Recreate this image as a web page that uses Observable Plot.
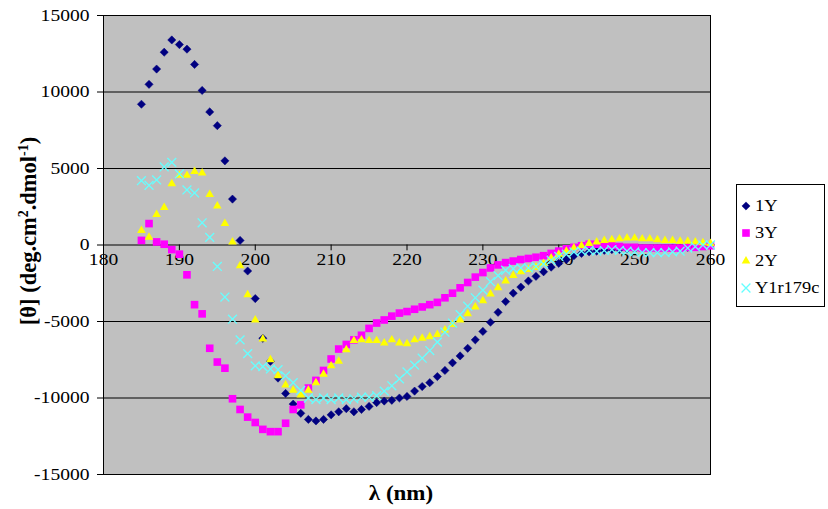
<!DOCTYPE html>
<html>
<head>
<meta charset="utf-8">
<script src="https://cdn.jsdelivr.net/npm/d3@7"></script>
<script src="https://cdn.jsdelivr.net/npm/@observablehq/plot@0.6"></script>
<style>
  body { margin: 0; background: #fff; }
  #wrap { position: relative; width: 828px; height: 509px; font-family: "Liberation Serif", "Times New Roman", serif; color: #000; }
  .ov { position: absolute; white-space: nowrap; line-height: 1; }
  .ov sup { font-size: 0.62em; vertical-align: 0.55em; line-height: 0; }
  #legend { position: absolute; left: 736px; top: 184px; width: 89px; height: 123px; border: 1px solid #000; background: #fff; box-sizing: border-box; }
  .lg { position: absolute; left: 4px; height: 20px; display: flex; align-items: center; font-size: 16px; }
  .lg span { display: inline-block; transform: scaleX(1.15); transform-origin: left center; margin-left: 2px; }
</style>
</head>
<body>
<div id="wrap"></div>
<script>
// ---- data ----
const wavelength = [185,186,187,188,189,190,191,192,193,194,
  195,196,197,198,199,200,201,202,203,204,
  205,206,207,208,209,210,211,212,213,214,
  215,216,217,218,219,220,221,222,223,224,
  225,226,227,228,229,230,231,232,233,234,
  235,236,237,238,239,240,241,242,243,244,
  245,246,247,248,249,250,251,252,253,254,
  255,256,257,258,259,260];

const cd1Y = [9200,10500,11500,12600,13400,13100,12800,11800,10100,8700,
  7800,5500,3000,300,-1700,-3500,-6100,-7600,-8700,-9700,
  -10400,-11000,-11400,-11500,-11400,-11100,-10900,-10700,-10900,-10750,
  -10550,-10300,-10200,-10150,-10000,-9900,-9550,-9250,-9000,-8600,
  -8200,-7700,-7250,-6750,-6200,-5650,-5050,-4400,-3700,-3150,
  -2750,-2350,-2050,-1750,-1450,-1200,-950,-700,-550,-450,
  -400,-350,-300,-300,-250,-250,-250,-250,-250,-250,
  -200,-200,-150,-100,-50,0];

const cd3Y = [300,1400,200,50,-300,-600,-1950,-3900,-4500,-6750,
  -7650,-8050,-10050,-10750,-11250,-11600,-12050,-12200,-12200,-11650,
  -10750,-10450,-9350,-8850,-8200,-7450,-6800,-6500,-6200,-5900,
  -5450,-5100,-4900,-4650,-4450,-4350,-4200,-4050,-3900,-3750,
  -3450,-3150,-2800,-2450,-2100,-1800,-1500,-1300,-1150,-1050,
  -950,-880,-800,-700,-550,-400,-250,-150,-50,50,
  50,0,-50,-100,-150,-150,-200,-200,-200,-200,
  -200,-200,-150,-150,-100,-50];

const cd2Y = [950,500,2000,2450,4000,4550,4550,4800,4700,3300,
  2550,1400,200,-1350,-3250,-4900,-6150,-7500,-8550,-9150,
  -9500,-9800,-9500,-9000,-8450,-7900,-7600,-6850,-6250,-6200,
  -6250,-6250,-6400,-6200,-6400,-6450,-6200,-6100,-6000,-5850,
  -5550,-5200,-4900,-4500,-4050,-3650,-3200,-2800,-2350,-2000,
  -1750,-1600,-1450,-1200,-850,-600,-400,-200,-50,100,
  200,300,350,400,450,450,400,400,350,300,
  300,250,250,200,150,100];

const cdY1r179c = [4200,3900,4250,5100,5400,4650,3600,3400,1450,500,
  -1400,-3400,-4850,-6200,-7100,-7900,-7950,-8100,-8150,-8550,
  -9000,-9500,-10000,-10100,-10000,-10100,-10000,-10100,-10050,-9950,
  -9950,-9850,-9550,-9200,-8750,-8300,-7850,-7400,-6900,-6350,
  -5700,-5100,-4550,-4000,-3450,-2950,-2400,-2000,-1650,-1550,
  -1500,-1500,-1400,-1250,-1000,-750,-600,-450,-400,-350,
  -400,-350,-300,-350,-400,-450,-500,-500,-500,-500,
  -450,-400,-200,-100,0,0];

const seriesNames = ["1Y", "3Y", "2Y", "Y1r179c"];
const xTicks = [180,190,200,210,220,230,240,250,260];
const yTicks = [-15000,-10000,-5000,0,5000,10000,15000];
const gridValues = [-10000,-5000,5000,10000];

// ---- styles ----
const seriesStyle = [
  {symbol: "diamond2", r: 3.7, fill: "#000080", stroke: "#000080", strokeWidth: 0.5},
  {symbol: "square", r: 4.3, fill: "#ff00ff", stroke: "none", strokeWidth: 0},
  {symbol: "triangle", r: 3.2, fill: "#ffff00", stroke: "none", strokeWidth: 0},
  {symbol: "times", r: 4.1, fill: "none", stroke: "#66ffff", strokeWidth: 1.3}
];
const seriesValues = [cd1Y, cd3Y, cd2Y, cdY1r179c];
const rowsFor = vals => wavelength.map((w, i) => ({w, v: vals[i]}));

const dotMarks = seriesValues.map((vals, k) => {
  const s = seriesStyle[k];
  return Plot.dot(rowsFor(vals), {x: "w", y: "v", symbol: s.symbol, r: s.r, fill: s.fill, stroke: s.stroke, strokeWidth: s.strokeWidth});
});

const chart = Plot.plot({
  width: 828,
  height: 509,
  marginLeft: 103,
  marginRight: 118,
  marginTop: 15,
  marginBottom: 35,
  style: {fontFamily: "'Liberation Serif', 'Times New Roman', serif", fontSize: "17px", color: "#000", background: "transparent", overflow: "visible"},
  x: {domain: [180, 260], axis: null},
  y: {domain: [-15000, 15000], axis: null},
  marks: [
    Plot.frame({fill: "#c0c0c0", stroke: null}),
    Plot.ruleY(gridValues, {stroke: "#000", strokeWidth: 1}),
    Plot.ruleY([0], {stroke: "#000", strokeWidth: 1}),
    Plot.ruleX(xTicks, {x: d => d, y1: 0, y2: -380, stroke: "#000"}),
    Plot.text(xTicks, {x: d => d, y: 0, dy: 15, text: d => String(d), fontSize: 17, fill: "#000"}),
    Plot.axisY(yTicks, {tickSize: 6, tickPadding: 8, tickFormat: d => String(d), fontSize: 17, label: null, stroke: "#000", fill: "#000"}),
    Plot.frame({stroke: "#000", strokeWidth: 1}),
    ...dotMarks
  ]
});

const wrap = document.getElementById("wrap");
wrap.appendChild(chart);

// Slight horizontal stretch of the serif labels, as in the reference
chart.querySelectorAll("text").forEach(t => {
  const len = t.getComputedTextLength();
  if (len > 0) {
    t.setAttribute("textLength", (len * 1.15).toFixed(1));
    t.setAttribute("lengthAdjust", "spacingAndGlyphs");
  }
});

// Axis titles
const yt = document.createElement("div");
yt.className = "ov";
yt.style.cssText = "left:29px;top:231px;font-weight:bold;font-size:22.5px;transform:translate(-50%,-50%) rotate(-90deg);";
yt.innerHTML = "[θ] (deg.cm<sup>2</sup>.dmol<sup>-1</sup>)";
wrap.appendChild(yt);

const xt = document.createElement("div");
xt.className = "ov";
xt.style.cssText = "left:401px;top:493px;font-weight:bold;font-size:20px;transform:translate(-50%,-50%) scaleX(1.15);";
xt.textContent = "λ (nm)";
wrap.appendChild(xt);

// Legend
const legend = document.createElement("div");
legend.id = "legend";
const legendY = [11, 38, 66, 93];
seriesNames.forEach((name, k) => {
  const s = seriesStyle[k];
  const row = document.createElement("div");
  row.className = "lg";
  row.style.top = legendY[k] + "px";
  const size = s.r * s.r * Math.PI;
  const symMap = {diamond2: d3.symbolDiamond2, square: d3.symbolSquare, triangle: d3.symbolTriangle, times: d3.symbolTimes};
  const path = d3.symbol(symMap[s.symbol], size)();
  row.innerHTML = `<svg width="12" height="20" style="overflow:visible"><path transform="translate(5,10)" d="${path}" fill="${s.fill}" stroke="${s.stroke}" stroke-width="${s.strokeWidth}"/></svg><span>${name}</span>`;
  legend.appendChild(row);
});
wrap.appendChild(legend);
</script>
</body>
</html>
